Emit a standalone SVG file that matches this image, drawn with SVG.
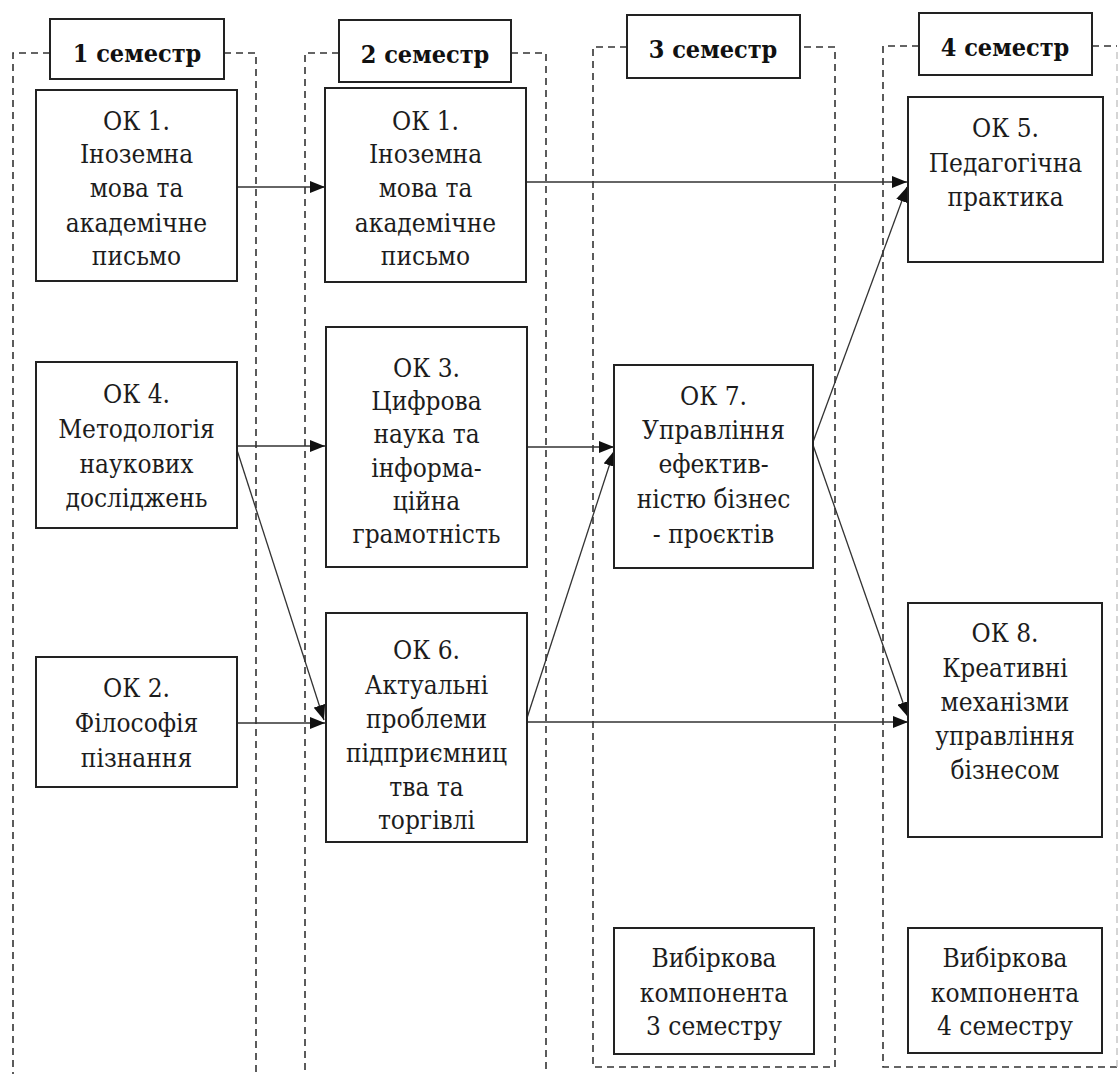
<svg xmlns="http://www.w3.org/2000/svg" width="1120" height="1074" viewBox="0 0 1120 1074">
<style>
.frame{fill:none;stroke:#333;stroke-width:1.6;stroke-dasharray:7 5}
.faint{fill:none;stroke:#c4c4c4;stroke-width:1.4;stroke-dasharray:7 5}
.box{fill:#fff;stroke:#222;stroke-width:2}
.hdr{fill:#fff;stroke:#222;stroke-width:2}
.t{font-family:'DejaVu Serif',serif;font-stretch:condensed;font-size:26px;fill:#1c1c1c;text-anchor:middle}
.h{font-family:'DejaVu Serif',serif;font-stretch:condensed;font-size:25px;font-weight:bold;fill:#111;text-anchor:middle}
.c{fill:none;stroke:#333;stroke-width:1.3;marker-end:url(#ah)}
</style>
<defs>
<marker id="ah" markerUnits="userSpaceOnUse" markerWidth="15" markerHeight="12" refX="15" refY="6" orient="auto">
<path d="M0,0 L15,6 L0,12 z" fill="#111"/>
</marker>
</defs>
<rect width="1120" height="1074" fill="#fff"/>
<g id="frames">
<path class="frame" d="M50,53 H13 V1074 M224,53 H256 V1074"/>
<path class="frame" d="M339,53 H305 V1074 M511,53 H546 V1074"/>
<path class="frame" d="M627,47 H593 V1067 H835 V47 H800"/>
<path class="frame" d="M919,46 H883 V1067 H1117 M1092,46 H1117"/>
<path class="faint" d="M1117,52 V1067"/>
</g>
<g id="headers">
<g id="h1"><rect class="hdr" x="50" y="19" width="174" height="60"/><text class="h" x="137" y="62">1 семестр</text></g>
<g id="h2"><rect class="hdr" x="339" y="20" width="172" height="62"/><text class="h" x="425" y="63">2 семестр</text></g>
<g id="h3"><rect class="hdr" x="627" y="15" width="173" height="63"/><text class="h" x="713" y="58">3 семестр</text></g>
<g id="h4"><rect class="hdr" x="919" y="13" width="173" height="62"/><text class="h" x="1005" y="56">4 семестр</text></g>
</g>
<g id="connectors">
<line class="c" x1="237" y1="187" x2="325" y2="187"/>
<line class="c" x1="527" y1="182" x2="907" y2="182"/>
<line class="c" x1="237" y1="446" x2="325" y2="446"/>
<line class="c" x1="237" y1="450" x2="324" y2="720"/>
<line class="c" x1="237" y1="723" x2="325" y2="723"/>
<line class="c" x1="527" y1="447" x2="614" y2="447"/>
<line class="c" x1="527" y1="718" x2="614" y2="451"/>
<line class="c" x1="527" y1="722" x2="908" y2="722"/>
<line class="c" x1="813" y1="442" x2="907" y2="187"/>
<line class="c" x1="813" y1="445" x2="908" y2="717"/>
</g>
<g id="ok1a"><rect class="box" x="36" y="90" width="201" height="191"/>
<text class="t"><tspan x="136.5" y="130">ОК 1.</tspan><tspan x="136.5" y="163">Іноземна</tspan><tspan x="136.5" y="197">мова та</tspan><tspan x="136.5" y="232">академічне</tspan><tspan x="136.5" y="265">письмо</tspan></text></g>
<g id="ok4"><rect class="box" x="36" y="362" width="201" height="166"/>
<text class="t"><tspan x="136.5" y="403">ОК 4.</tspan><tspan x="136.5" y="438">Методологія</tspan><tspan x="136.5" y="473">наукових</tspan><tspan x="136.5" y="507">досліджень</tspan></text></g>
<g id="ok2"><rect class="box" x="36" y="657" width="201" height="130"/>
<text class="t"><tspan x="136.5" y="697">ОК 2.</tspan><tspan x="136.5" y="732">Філософія</tspan><tspan x="136.5" y="767">пізнання</tspan></text></g>
<g id="ok1b"><rect class="box" x="325" y="88" width="201" height="194"/>
<text class="t"><tspan x="425.5" y="130">ОК 1.</tspan><tspan x="425.5" y="163">Іноземна</tspan><tspan x="425.5" y="197">мова та</tspan><tspan x="425.5" y="232">академічне</tspan><tspan x="425.5" y="265">письмо</tspan></text></g>
<g id="ok3"><rect class="box" x="326" y="327" width="201" height="240"/>
<text class="t"><tspan x="426.5" y="377">ОК 3.</tspan><tspan x="426.5" y="410">Цифрова</tspan><tspan x="426.5" y="443">наука та</tspan><tspan x="426.5" y="477">інформа-</tspan><tspan x="426.5" y="510">ційна</tspan><tspan x="426.5" y="543">грамотність</tspan></text></g>
<g id="ok6"><rect class="box" x="326" y="613" width="201" height="229"/>
<text class="t"><tspan x="426.5" y="659">ОК 6.</tspan><tspan x="426.5" y="694">Актуальні</tspan><tspan x="426.5" y="728">проблеми</tspan><tspan x="426.5" y="762">підприємниц</tspan><tspan x="426.5" y="796">тва та</tspan><tspan x="426.5" y="829">торгівлі</tspan></text></g>
<g id="ok7"><rect class="box" x="614" y="365" width="199" height="203"/>
<text class="t"><tspan x="713.5" y="405">ОК 7.</tspan><tspan x="713.5" y="439">Управління</tspan><tspan x="713.5" y="473">ефектив-</tspan><tspan x="713.5" y="508">ністю бізнес</tspan><tspan x="713.5" y="543">- проєктів</tspan></text></g>
<g id="vk3"><rect class="box" x="614" y="928" width="200" height="126"/>
<text class="t"><tspan x="714" y="967">Вибіркова</tspan><tspan x="714" y="1002">компонента</tspan><tspan x="714" y="1035">3 семестру</tspan></text></g>
<g id="ok5"><rect class="box" x="908" y="97" width="195" height="165"/>
<text class="t"><tspan x="1005.5" y="137">ОК 5.</tspan><tspan x="1005.5" y="172">Педагогічна</tspan><tspan x="1005.5" y="206">практика</tspan></text></g>
<g id="ok8"><rect class="box" x="908" y="603" width="194" height="234"/>
<text class="t"><tspan x="1005" y="642">ОК 8.</tspan><tspan x="1005" y="677">Креативні</tspan><tspan x="1005" y="711">механізми</tspan><tspan x="1005" y="745">управління</tspan><tspan x="1005" y="779">бізнесом</tspan></text></g>
<g id="vk4"><rect class="box" x="908" y="928" width="194" height="125"/>
<text class="t"><tspan x="1005" y="967">Вибіркова</tspan><tspan x="1005" y="1002">компонента</tspan><tspan x="1005" y="1035">4 семестру</tspan></text></g>
</svg>
